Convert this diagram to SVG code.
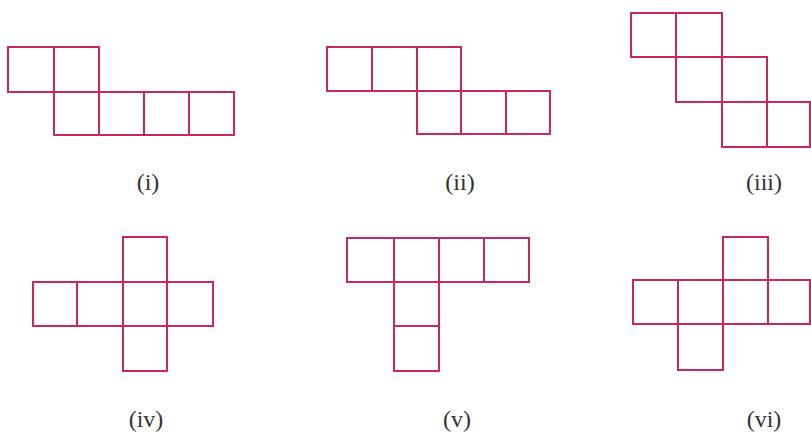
<svg xmlns="http://www.w3.org/2000/svg" width="811" height="437" viewBox="0 0 811 437">
<style>
.sq{fill:none;stroke:#c8285e;stroke-width:2}
.lb{font-family:"Liberation Serif",serif;font-size:24px;fill:#333;text-anchor:middle}
</style>
<rect width="811" height="437" fill="#fff"/>
<g id="net-i" class="sq">
<rect x="8" y="47" width="46" height="45"/>
<rect x="54" y="47" width="45" height="45"/>
<rect x="54" y="92" width="45" height="43"/>
<rect x="99" y="92" width="45" height="43"/>
<rect x="144" y="92" width="45" height="43"/>
<rect x="189" y="92" width="45" height="43"/>
</g>
<g id="net-ii" class="sq">
<rect x="327" y="47" width="45" height="44"/>
<rect x="372" y="47" width="45" height="44"/>
<rect x="417" y="47" width="44" height="44"/>
<rect x="417" y="91" width="44" height="43"/>
<rect x="461" y="91" width="45" height="43"/>
<rect x="506" y="91" width="44" height="43"/>
</g>
<g id="net-iii" class="sq">
<rect x="631" y="13" width="45" height="44"/>
<rect x="676" y="13" width="46" height="44"/>
<rect x="676" y="57" width="46" height="45"/>
<rect x="722" y="57" width="45" height="45"/>
<rect x="722" y="102" width="45" height="45"/>
<rect x="767" y="102" width="43" height="45"/>
</g>
<g id="net-iv" class="sq">
<rect x="123" y="237" width="44" height="45"/>
<rect x="33" y="282" width="44" height="44"/>
<rect x="77" y="282" width="46" height="44"/>
<rect x="123" y="282" width="44" height="44"/>
<rect x="167" y="282" width="46" height="44"/>
<rect x="123" y="326" width="44" height="45"/>
</g>
<g id="net-v" class="sq">
<rect x="347" y="238" width="47" height="44"/>
<rect x="394" y="238" width="45" height="44"/>
<rect x="439" y="238" width="45" height="44"/>
<rect x="484" y="238" width="45" height="44"/>
<rect x="394" y="282" width="45" height="44"/>
<rect x="394" y="326" width="45" height="45"/>
</g>
<g id="net-vi" class="sq">
<rect x="723" y="237" width="45" height="43"/>
<rect x="633" y="280" width="45" height="44"/>
<rect x="678" y="280" width="45" height="44"/>
<rect x="723" y="280" width="45" height="44"/>
<rect x="768" y="280" width="42" height="44"/>
<rect x="678" y="324" width="45" height="46"/>
</g>
<g id="labels" class="lb">
<text x="148" y="190">(i)</text>
<text x="460" y="190">(ii)</text>
<text x="764" y="190">(iii)</text>
<text x="146" y="427">(iv)</text>
<text x="457" y="427">(v)</text>
<text x="764" y="427">(vi)</text>
</g>
</svg>
